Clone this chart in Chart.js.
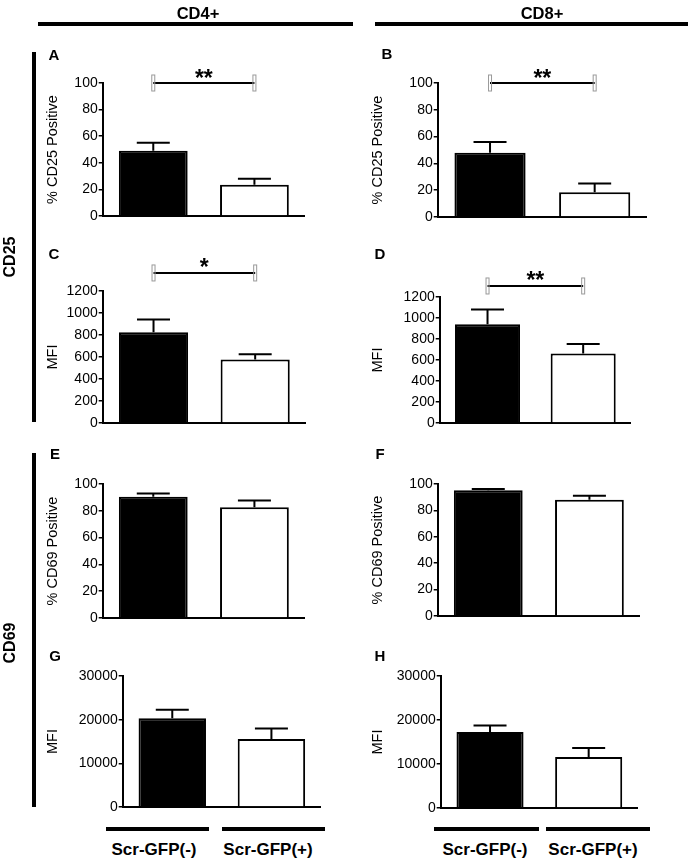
<!DOCTYPE html>
<html>
<head>
<meta charset="utf-8">
<script src="https://cdn.jsdelivr.net/npm/chart.js@4.4.0/dist/chart.umd.min.js"></script>
<style>
    body { margin: 0; background: #fff; width: 689px; height: 864px; position: relative; overflow: hidden;
           font-family: 'Liberation Sans', Arial, sans-serif; }
    canvas { position: absolute; }
    .t { position: absolute; transform: translate(-50%, -50%); white-space: nowrap; font-weight: bold; color: #000; }
    .v { transform: translate(-50%, -50%) rotate(-90deg); }
    .ln { position: absolute; background: #000; }
</style>
</head>
<body>
<script>
// Data
const groups = ['Scr-GFP(-)', 'Scr-GFP(+)'];
const panelLetters = ['A', 'B', 'C', 'D', 'E', 'F', 'G', 'H'];
const yTitles = ['% CD25 Positive', '% CD25 Positive', 'MFI', 'MFI',
                 '% CD69 Positive', '% CD69 Positive', 'MFI', 'MFI'];
const yMax = [100, 100, 1200, 1200, 100, 100, 30000, 30000];
const yStep = [20, 20, 200, 200, 20, 20, 10000, 10000];
const means = [[49, 23.5], [48, 18.5], [825, 577], [940, 662],
               [90.5, 82.6], [95.2, 88], [20300, 15600], [17300, 11600]];
const errors = [[6, 4.5], [8, 6.5], [115, 48], [140, 90],
                [2.5, 5], [1, 3.1], [1950, 2400], [1450, 2050]];
const sigLevel = [100, 100, 1364, 1305, null, null, null, null];
const sigStars = ['**', '**', '*', '**', '', '', '', ''];

// Layout of each panel (page pixels)
const panels = [
    { axisX: 103, top: 83,  bottom: 216, right: 305, titleX: 53,  letter: [54, 54] },
    { axisX: 438, top: 83,  bottom: 217, right: 647, titleX: 378, letter: [387, 53] },
    { axisX: 103, top: 291, bottom: 423, right: 306, titleX: 53,  letter: [54, 253] },
    { axisX: 440, top: 297, bottom: 423, right: 631, titleX: 378, letter: [380, 253] },
    { axisX: 103, top: 484, bottom: 618, right: 305, titleX: 53,  letter: [55, 453] },
    { axisX: 438, top: 484, bottom: 616, right: 640, titleX: 378, letter: [380, 453] },
    { axisX: 123, top: 676, bottom: 807, right: 321, titleX: 53,  letter: [55, 655] },
    { axisX: 441, top: 676, bottom: 808, right: 638, titleX: 378, letter: [380, 655] }
];

const FONT = "'Liberation Sans', Arial, sans-serif";

function addText(text, x, y, size, vertical) {
    const d = document.createElement('div');
    d.className = vertical ? 't v' : 't';
    d.style.left = x + 'px';
    d.style.top = y + 'px';
    d.style.fontSize = size + 'px';
    d.textContent = text;
    document.body.appendChild(d);
}

function addLine(x, y, w, h) {
    const d = document.createElement('div');
    d.className = 'ln';
    d.style.left = x + 'px';
    d.style.top = y + 'px';
    d.style.width = w + 'px';
    d.style.height = h + 'px';
    document.body.appendChild(d);
}

function markings(i) {
    return {
        id: 'markings' + i,
        afterDatasetsDraw(chart) {
            const { ctx, scales: { x, y } } = chart;
            ctx.save();
            ctx.strokeStyle = '#000';
            ctx.lineWidth = 2;
            means[i].forEach((m, k) => {
                const cx = x.getPixelForValue(k);
                const y0 = y.getPixelForValue(m);
                const y1 = y.getPixelForValue(m + errors[i][k]);
                ctx.beginPath();
                ctx.moveTo(cx, y0);
                ctx.lineTo(cx, y1);
                ctx.moveTo(cx - 16.5, y1);
                ctx.lineTo(cx + 16.5, y1);
                ctx.stroke();
            });
            ctx.restore();
        },
        afterDraw(chart) {
            if (sigLevel[i] === null) return;
            const { ctx, scales: { x, y } } = chart;
            const x0 = x.getPixelForValue(0);
            const x1 = x.getPixelForValue(1);
            const by = y.getPixelForValue(sigLevel[i]);
            ctx.save();
            ctx.strokeStyle = '#000';
            ctx.lineWidth = 2;
            ctx.beginPath();
            ctx.moveTo(x0, by);
            ctx.lineTo(x1, by);
            ctx.stroke();
            ctx.strokeStyle = '#999';
            ctx.lineWidth = 1;
            [x0, x1].forEach(px => ctx.strokeRect(px - 1.5, by - 8, 3, 16));
            ctx.fillStyle = '#000';
            ctx.font = 'bold 23px ' + FONT;
            ctx.textAlign = 'center';
            ctx.textBaseline = 'alphabetic';
            ctx.fillText(sigStars[i], (x0 + x1) / 2, by + 2.5);
            ctx.restore();
        }
    };
}

const padTop = 45;
const padBottom = 10;
const titleSize = 14.5;

panels.forEach((g, i) => {
    const left = g.titleX - titleSize * 1.2 / 2;
    const top = g.top - padTop;
    const w = Math.round(g.right - left);
    const h = Math.round(g.bottom + padBottom - top);
    const c = document.createElement('canvas');
    c.width = w;
    c.height = h;
    c.style.left = left + 'px';
    c.style.top = top + 'px';
    c.style.width = w + 'px';
    c.style.height = h + 'px';
    document.body.appendChild(c);

    new Chart(c, {
        type: 'bar',
        data: {
            labels: groups,
            datasets: [{
                data: means[i],
                backgroundColor: ['#000', '#fff'],
                borderColor: '#000',
                borderWidth: 2,
                barPercentage: 0.68,
                categoryPercentage: 1
            }]
        },
        options: {
            responsive: false,
            animation: false,
            layout: { padding: { top: padTop, bottom: padBottom, left: 0, right: 0 } },
            plugins: { legend: { display: false }, tooltip: { enabled: false } },
            scales: {
                x: {
                    ticks: { display: false },
                    grid: { display: false },
                    border: { color: '#000', width: 2 },
                    afterFit: s => { s.height = 0; }
                },
                y: {
                    min: 0,
                    max: yMax[i],
                    ticks: {
                        stepSize: yStep[i],
                        color: '#000',
                        padding: 1,
                        font: { family: FONT, size: 14 },
                        callback: v => String(v)
                    },
                    grid: { drawOnChartArea: false, tickLength: 4, color: '#000', lineWidth: 1.5 },
                    border: { color: '#000', width: 2 },
                    title: {
                        display: true,
                        text: yTitles[i],
                        color: '#000',
                        padding: 0,
                        font: { family: FONT, size: titleSize }
                    },
                    afterFit: s => { s.width = g.axisX - left; }
                }
            }
        },
        plugins: [markings(i)]
    });

    addText(panelLetters[i], g.letter[0], g.letter[1], 15, false);
});

// Column headings
addText('CD4+', 198, 13, 16.5, false);
addText('CD8+', 542, 13, 16.5, false);
addLine(38, 22, 315, 4);
addLine(375, 22, 313, 4);

// Row headings
addText('CD25', 10, 257, 16, true);
addText('CD69', 10, 643, 16, true);
addLine(32, 52, 4, 370);
addLine(32, 453, 4, 354);

// Group labels under the bottom panels
addLine(106, 827, 103, 4);
addLine(222, 827, 103, 4);
addLine(434, 827, 105, 4);
addLine(546, 827, 104, 4);
addText(groups[0], 154, 850, 17, false);
addText(groups[1], 268, 850, 17, false);
addText(groups[0], 485, 850, 17, false);
addText(groups[1], 593, 850, 17, false);
</script>
</body>
</html>
